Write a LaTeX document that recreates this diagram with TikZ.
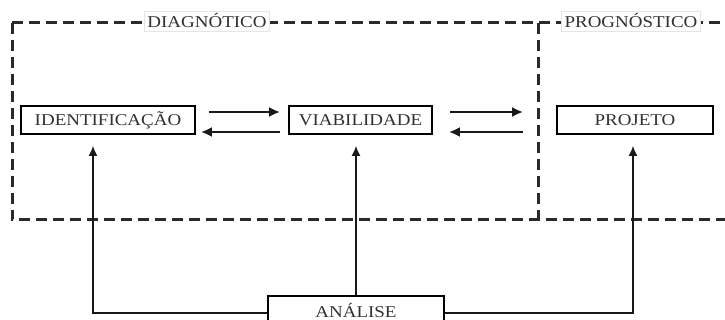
\documentclass[tikz,border=0pt]{standalone}
\usepackage{fontspec}
\setmainfont{Liberation Serif}[FakeStretch=1.15]
\usepackage{xcolor}
\usetikzlibrary{arrows.meta}
\definecolor{framegray}{HTML}{2A2A2A}
\definecolor{textgray}{HTML}{303030}

\begin{document}
\begin{tikzpicture}[x=1pt, y=-1pt,
    stage/.style={rectangle, draw=black, line width=1.7pt, minimum height=28pt, inner sep=0pt, font=\fontsize{16.5}{18}\selectfont, text=textgray},
    phase/.style={fill=white, draw=gray!20, line width=0.5pt, inner sep=3pt, minimum height=18pt, font=\fontsize{16.5}{18}\selectfont, text=textgray},
    flow/.style={-{Latex[length=11pt,width=10pt]}, line width=2.4pt, color=black!90},
    feed/.style={-{Latex[length=10pt,width=9pt]}, line width=1.6pt, color=black!90},
    frame/.style={dash pattern=on 11pt off 6pt, line width=3pt, color=framegray}
]
\useasboundingbox (0,0) rectangle (725,320);

% dashed frame
\draw[frame] (12,23) -- (725,23);
\draw[frame] (12,23) -- (12,220) -- (725,220);
\draw[frame] (538,23) -- (538,220);

\node[phase] (diag) at (207,21) {DIAGNÓTICO};
\node[phase] (prog) at (631,21) {PROGNÓSTICO};

\node[stage, minimum width=174pt] (ident) at (108,120) {IDENTIFICAÇÃO};
\node[stage, minimum width=143pt] (viab) at (360.5,120) {VIABILIDADE};
\node[stage, minimum width=156pt] (proj) at (635,120) {PROJETO};
\node[stage, minimum width=176pt] (anal) at (356,310) {ANÁLISE};

\draw[flow] ([xshift=13pt,yshift=8pt]ident.east) -- ([xshift=-8pt,yshift=8pt]viab.west);
\draw[flow] ([xshift=-8pt,yshift=-12pt]viab.west) -- ([xshift=5pt,yshift=-12pt]ident.east);
\draw[flow] ([xshift=17pt,yshift=8pt]viab.east) -- ([xshift=-33pt,yshift=8pt]proj.west);
\draw[flow] ([xshift=-33pt,yshift=-12pt]proj.west) -- ([xshift=16pt,yshift=-12pt]viab.east);

\draw[feed] ([yshift=-3pt]anal.west) -| ([xshift=-15pt,yshift=-11pt]ident.south);
\draw[feed] (anal.north) -- ([xshift=-4.5pt,yshift=-11pt]viab.south);
\draw[feed] ([yshift=-3pt]anal.east) -| ([xshift=-2pt,yshift=-11pt]proj.south);
\end{tikzpicture}
\end{document}
